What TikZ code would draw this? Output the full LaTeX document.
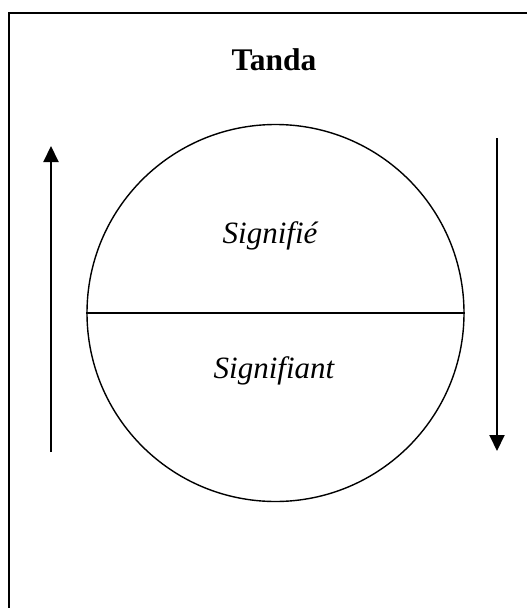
\documentclass[tikz,border=0pt]{standalone}
\usepackage{fontspec}
\setmainfont{Liberation Serif}
\usetikzlibrary{arrows.meta}
\begin{document}
\begin{tikzpicture}[x=1pt,y=-1pt,
  frame/.style={line width=1.6pt},
  flow/.style={line width=2pt,-{Triangle[length=16pt,width=15pt]}},
  lbl/.style={inner sep=0pt,anchor=base,font=\fontsize{31}{37}\selectfont\itshape},
  ttl/.style={inner sep=0pt,anchor=base,font=\fontsize{31.5}{37}\selectfont\bfseries}]
\useasboundingbox (0,0) rectangle (527,608);
\clip (0,0) rectangle (527,608);
\draw[frame] (9,620) -- (9,13) -- (540,13);
\node[ttl] (title) at (274,70) {Tanda};
\node[circle,draw,line width=1.4pt,minimum size=377pt,inner sep=0pt] (c) at (275.5,313) {};
\draw[line width=1.4pt] (c.west) -- (c.east);
\node[lbl] (sd) at (270,243) {Signifié};
\node[lbl] (sa) at (274,378) {Signifiant};
\coordinate (l0) at (51,452);
\coordinate (l1) at (51,146);
\coordinate (r0) at (497,138);
\coordinate (r1) at (497,451);
\draw[flow] (l0) -- (l1);
\draw[flow] (r0) -- (r1);
\end{tikzpicture}
\end{document}
